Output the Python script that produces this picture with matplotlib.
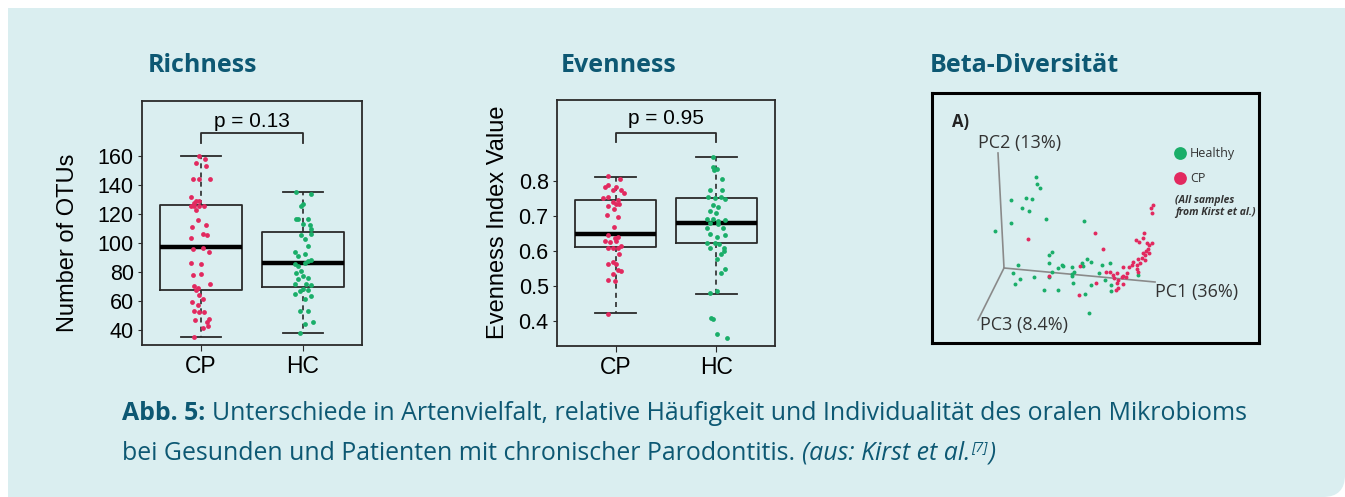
import numpy as np
import matplotlib
matplotlib.use('Agg')
import matplotlib.pyplot as plt
from matplotlib.patches import Rectangle, FancyBboxPatch

# ---- data ----
groups = ['CP', 'HC']

# Richness (Number of OTUs): box stats
rich_stats = {'CP': [35.4, 67.8, 96.8, 125.8, 160.0],   # whislo, q1, med, q3, whishi
              'HC': [37.7, 69.7, 86.2, 107.6, 135.0]}
rich_cp = [160.0, 157.5, 154.7, 152.9, 143.7, 143.7, 143.7, 131.8, 128.5, 128.5, 127.4,
           125.2, 125.2, 125.2, 125.2, 122.9, 115.7, 111.2, 112.4, 106.4, 105.3, 103.4,
           96.6, 93.8, 95.5, 86.3, 85.3, 77.8, 78.7, 71.6, 70.0, 68.8, 67.7, 64.2, 61.2,
           59.6, 57.3, 53.2, 52.5, 52.5, 46.8, 47.7, 45.4, 41.7, 42.8, 35.5]
rich_cp_jit = [-0.02, 0.04, -0.05, 0.05, -0.08, -0.02, 0.09, -0.10, -0.05, -0.02, -0.07,
               -0.10, -0.07, -0.02, 0.03, -0.05, -0.03, -0.09, 0.05, 0.02, 0.06, -0.10,
               0.02, 0.08, -0.08, -0.10, 0.0, -0.08, 0.0, 0.09, -0.07, -0.03, -0.05, -0.02, 0.02,
               -0.09, -0.03, -0.07, -0.02, 0.03, -0.06, 0.08, 0.06, 0.02, 0.07, -0.07]
rich_hc = [135.0, 133.9, 126.4, 125.2, 116.6, 116.6, 116.6, 112.8, 112.4, 109.4, 105.3,
           106.0, 102.5, 97.7, 93.6, 90.8, 92.0, 88.5, 87.4, 85.1, 86.2, 84.0, 80.5, 79.4,
           77.1, 76.0, 74.8, 71.6, 71.6, 71.1, 68.1, 67.7, 66.7, 64.7, 63.6, 61.3, 53.3,
           52.8, 44.1, 45.7, 37.8]
rich_hc_jit = [-0.07, 0.08, 0.0, -0.02, -0.07, -0.05, 0.05, 0.0, 0.07, 0.08, -0.02,
               0.08, 0.02, 0.05, -0.08, -0.05, 0.02, 0.08, 0.05, -0.08, 0.02, -0.05, -0.02, -0.07,
               0.0, 0.05, -0.05, -0.08, 0.03, 0.08, 0.0, 0.05, -0.03, -0.08, 0.08, 0.02, -0.03,
               0.05, 0.02, 0.10, -0.03]

# Evenness index
even_stats = {'CP': [0.4215, 0.6105, 0.6466, 0.7456, 0.812],
              'HC': [0.477, 0.621, 0.680, 0.752, 0.870]}
even_cp = [0.814, 0.805, 0.784, 0.789, 0.784, 0.774, 0.774, 0.765, 0.753, 0.750, 0.745,
           0.740, 0.733, 0.735, 0.727, 0.720, 0.698, 0.703, 0.669, 0.646, 0.637, 0.639,
           0.629, 0.624, 0.627, 0.615, 0.609, 0.607, 0.609, 0.590, 0.569, 0.561, 0.561,
           0.546, 0.541, 0.533, 0.515, 0.513, 0.420]
even_cp_jit = [-0.07, 0.04, -0.10, -0.07, 0.0, -0.03, 0.05, 0.08, -0.07, -0.12, 0.02,
               -0.03, 0.0, 0.03, -0.07, -0.02, 0.02, -0.08, -0.02, -0.07, -0.01, 0.02,
               -0.10, -0.05, 0.0, 0.05, -0.07, -0.03, 0.02, 0.03, -0.03, -0.07, 0.0,
               0.02, 0.05, -0.03, -0.07, -0.01, -0.07]
even_hc = [0.870, 0.839, 0.835, 0.830, 0.805, 0.774, 0.774, 0.753, 0.751, 0.753, 0.748,
           0.730, 0.725, 0.714, 0.708, 0.692, 0.690, 0.685, 0.687, 0.679, 0.676, 0.666,
           0.664, 0.647, 0.638, 0.645, 0.623, 0.623, 0.618, 0.609, 0.607, 0.592, 0.598,
           0.577, 0.548, 0.536, 0.478, 0.485, 0.408, 0.403, 0.361, 0.350]
even_hc_jit = [-0.03, -0.03, 0.01, -0.02, 0.05, -0.06, 0.05, -0.08, -0.01, 0.04, 0.08,
               -0.03, 0.02, -0.06, 0.0, -0.09, -0.03, 0.02, 0.08, -0.06, 0.02, -0.09,
               0.06, -0.06, 0.01, 0.08, -0.09, -0.01, 0.03, -0.06, 0.07, 0.04, 0.07,
               0.01, 0.08, 0.04, -0.06, 0.01, -0.05, -0.03, 0.01, 0.10]

p_rich = 'p = 0.13'
p_even = 'p = 0.95'

# Beta diversity: projected PCoA coordinates (PC1/PC2/PC3 drawn as 2D projection)
beta_healthy_x = [3.2, 3.3, 3.6, 0.7, 2.2, 2.8, 1.8, 2.5, 4.2, 0.7, 8.0, -0.9, 4.8, 4.5,
                  4.5, 1.4, 8.3, 8.7, 7.8, 5.8, 5.9, 5.4, 6.8, 7.9, 9.8, 10.6, 0.9, 4.8,
                  7.0, 6.8, 6.8, 1.6, 3.0, 4.5, 9.5, 1.1, 6.9, 8.7, 10.1, 10.7, 4.0, 5.4,
                  8.1, 10.7, 8.5, 13.4]
beta_healthy_y = [9.1, 8.4, 8.0, 6.8, 7.0, 6.9, 6.0, 5.7, 4.9, 4.5, 4.7, 3.7, 1.6, 1.3,
                  0.5, 0.3, 0.9, 0.6, 0.5, 0.3, 0.2, 0.0, 0.1, 0.2, 0.3, 0.5, -0.5, -0.4,
                  -0.4, -0.6, -0.8, -1.1, -0.9, -0.9, -0.5, -1.6, -1.5, -1.7, -1.2, -1.7, -2.2, -2.2,
                  -2.6, -2.3, -4.5, -0.7]
beta_cp_x = [2.4, 7.6, 4.5, 7.5, 14.9, 14.7, 14.8, 9.1, 9.9, 14.0, 13.2, 13.5, 13.9, 14.3,
             14.8, 14.5, 14.4, 14.2, 13.9, 14.5, 14.1, 13.8, 13.4, 12.9, 14.1, 13.6, 13.3,
             12.8, 12.5, 13.3, 13.4, 11.9, 12.3, 10.2, 10.6, 10.9, 11.3, 11.0, 11.4, 11.8,
             11.9, 12.2, 11.3, 11.9, 11.4, 11.2, 9.2]
beta_cp_y = [2.9, 0.2, -0.8, -2.7, 6.3, 6.0, 5.5, 3.5, 1.9, 3.5, 2.8, 2.6, 3.0, 2.5,
             2.5, 2.3, 1.9, 1.7, 1.5, 1.5, 1.3, 1.0, 0.9, 0.6, 0.8, 0.5, 0.3,
             0.3, 0.1, -0.1, -0.4, 0.1, -0.5, -0.4, -0.4, -0.7, -0.5, -1.0, -1.2, -0.9,
             -0.8, -0.9, -1.5, -1.6, -2.0, -2.2, -1.5]
pc_axes_end = {'PC1 (36%)': (15.1, -1.4), 'PC2 (13%)': (-0.6, 11.5), 'PC3 (8.4%)': (-2.6, -5.2)}

# ---- style ----
W, H = 1345, 497
PANEL = '#daeef0'
TEAL = '#0d5873'
PINK = '#e2295f'
GREEN = '#1aae69'
EDGE = '#2a2a2a'
SANS = ['Liberation Sans', 'DejaVu Sans']
CAPFONT = ['Open Sans', 'DejaVu Sans']

fig = plt.figure(figsize=(W / 100, H / 100), dpi=100)
fig.patch.set_facecolor('white')


def px_axes(l, t, r, b, **kw):
    return fig.add_axes([l / W, 1 - b / H, (r - l) / W, (b - t) / H], **kw)


# background layer in pixel units
bg = px_axes(0, 0, W, H, zorder=-5)
bg.set_xlim(0, W)
bg.set_ylim(H, 0)
bg.axis('off')
bg.add_patch(Rectangle((8, 8), W - 8 - 30, H - 8, color=PANEL, lw=0))
bg.add_patch(Rectangle((8, 8), W - 8, H - 8 - 30, color=PANEL, lw=0))
bg.add_patch(FancyBboxPatch((W - 80, H - 80), 80, 80, boxstyle='round,pad=0,rounding_size=22',
                            color=PANEL, lw=0))

for x, s in [(148, 'Richness'), (561, 'Evenness'), (930, 'Beta-Diversität')]:
    bg.text(x, 65, s, fontsize=18, fontweight='bold', color=TEAL, family=CAPFONT,
            va='center', ha='left')


def box_panel(ax, stats, pts, jits, ylim, yticks, ylabels, pval, br):
    bx = []
    for g in groups:
        lo, q1, med, q3, hi = stats[g]
        bx.append({'whislo': lo, 'q1': q1, 'med': med, 'q3': q3, 'whishi': hi, 'fliers': []})
    ax.bxp(bx, positions=[1, 2], widths=0.8, capwidths=0.4, showfliers=False,
           boxprops=dict(color=EDGE, lw=1.3),
           medianprops=dict(color='black', lw=3.2, solid_capstyle='butt'),
           whiskerprops=dict(color=EDGE, lw=1.2, linestyle=(0, (3, 2.5))),
           capprops=dict(color=EDGE, lw=1.3))
    for i, (vals, jit, col) in enumerate(zip(pts, jits, [PINK, GREEN])):
        ax.scatter(np.array(jit) + i + 1, vals, s=12, color=col, lw=0, zorder=4)
    ax.set_xlim(0.42, 2.58)
    ax.set_ylim(*ylim)
    ax.set_xticks([1, 2])
    ax.set_xticklabels(groups, fontsize=16.5, family=SANS)
    ax.set_yticks(yticks)
    ax.set_yticklabels(ylabels, fontsize=15.5, family=SANS)
    ax.tick_params(axis='x', length=4, pad=3, color=EDGE)
    ax.tick_params(axis='y', length=3, pad=3, color=EDGE)
    for sp in ax.spines.values():
        sp.set_color(EDGE)
        sp.set_linewidth(1.3)
    ax.set_facecolor('none')
    ax.plot([1, 1, 2, 2], [br[0], br[1], br[1], br[0]], color=EDGE, lw=1.3)
    ax.text(1.5, br[2], pval, ha='center', va='center', fontsize=15, family=SANS)


ax1 = px_axes(142, 101, 362, 345)
box_panel(ax1, rich_stats, [rich_cp, rich_hc], [rich_cp_jit, rich_hc_jit],
          (29.7, 197.6), range(40, 161, 20), [str(v) for v in range(40, 161, 20)],
          p_rich, (169, 175.4, 183.4))
fig.text(68 / W, 1 - 243 / H, 'Number of OTUs', rotation=90, fontsize=17, family=SANS,
         ha='center', va='center')

ax2 = px_axes(557, 100, 775, 346)
ev_ticks = [0.4, 0.5, 0.6, 0.7, 0.8]
box_panel(ax2, even_stats, [even_cp, even_hc], [even_cp_jit, even_hc_jit],
          (0.327, 1.032), ev_ticks, ['%.1f' % v for v in ev_ticks],
          p_even, (0.913, 0.938, 0.979))
fig.text(498 / W, 1 - 222 / H, 'Evenness Index Value', rotation=90, fontsize=17, family=SANS,
         ha='center', va='center')

# beta diversity panel
ax3 = px_axes(932, 93, 1259, 343)
ax3.set_xlim(-7.2, 25.5)
ax3.set_ylim(-7.5, 17.5)
ax3.set_xticks([])
ax3.set_yticks([])
for sp in ax3.spines.values():
    sp.set_color('black')
    sp.set_linewidth(2.2)
ax3.set_facecolor('none')
for name, (ex, ey) in pc_axes_end.items():
    ax3.plot([0, ex], [0, ey], color='#8a8a8a', lw=1.2, zorder=1)
ax3.scatter(beta_healthy_x, beta_healthy_y, s=8, color=GREEN, lw=0, zorder=3)
ax3.scatter(beta_cp_x, beta_cp_y, s=8, color=PINK, lw=0, zorder=3)
lab_font = ['Open Sans', 'DejaVu Sans']
ax3.text(-5.2, 14.6, 'A)', fontsize=12, fontweight='bold', family=lab_font, va='center', color='#222')
ax3.text(-2.6, 12.5, 'PC2 (13%)', fontsize=13, family=lab_font, va='center', color='#333')
ax3.text(15.1, -2.4, 'PC1 (36%)', fontsize=13, family=lab_font, va='center', color='#333')
ax3.text(-2.4, -5.7, 'PC3 (8.4%)', fontsize=13, family=lab_font, va='center', color='#333')
ax3.scatter([17.6], [11.5], s=85, color=GREEN, lw=0)
ax3.scatter([17.6], [9.0], s=85, color=PINK, lw=0)
ax3.text(18.6, 11.5, 'Healthy', fontsize=9, family=lab_font, va='center', color='#333')
ax3.text(18.6, 9.0, 'CP', fontsize=9, family=lab_font, va='center', color='#333')
ax3.text(17.1, 6.8, '(All samples', fontsize=7.5, family=lab_font, style='italic',
         fontweight='bold', va='center', color='#333')
ax3.text(17.1, 5.5, 'from Kirst et al.)', fontsize=7.5, family=lab_font, style='italic',
         fontweight='bold', va='center', color='#333')

# caption with mixed styles
renderer = fig.canvas.get_renderer()
cap_fs = 17.9


def width_of(s):
    t = bg.text(0, 0, s, fontsize=cap_fs, family=CAPFONT)
    w = t.get_window_extent(renderer).width
    t.remove()
    return w


space = width_of('x x') - width_of('xx')


def runs(x, y, parts):
    for s, kw in parts:
        dy = kw.get('dy', 0)
        t = bg.text(x, y + dy, s, fontsize=kw.get('fontsize', cap_fs), family=CAPFONT,
                    fontweight=kw.get('fontweight', 'normal'), style=kw.get('style', 'normal'),
                    color=TEAL, va='baseline', ha='left')
        x += t.get_window_extent(renderer).width + kw.get('gap', 0)


runs(122, 420, [('Abb. 5:', dict(fontweight='bold', gap=space)),
                ('Unterschiede in Artenvielfalt, relative Häufigkeit und Individualität des oralen Mikrobioms', {})])
runs(122, 460, [('bei Gesunden und Patienten mit chronischer Parodontitis.', dict(gap=space)),
                ('(aus: Kirst et al.', dict(style='italic', gap=1)),
                ('[7]', dict(style='italic', fontsize=10.5, dy=-9, gap=1)),
                (')', dict(style='italic'))])

fig.savefig('out.png', dpi=100, facecolor=fig.get_facecolor())
